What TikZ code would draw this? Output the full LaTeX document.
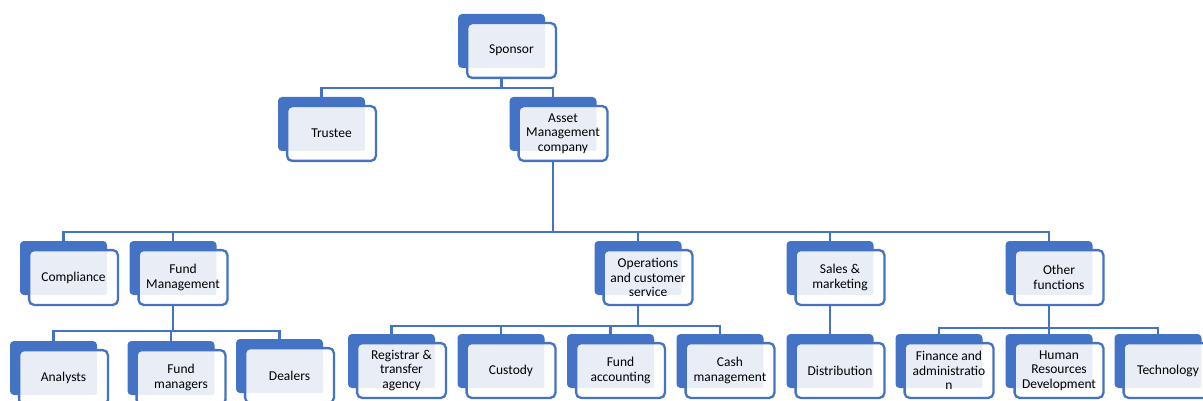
\documentclass[tikz,border=0pt]{standalone}
\usepackage{fontspec}
\setmainfont{Carlito}
\definecolor{accent}{HTML}{4472C4}
\definecolor{tint}{HTML}{E9EDF6}

\begin{document}
\begin{tikzpicture}[x=1pt,y=-1pt,font=\fontsize{13.5}{14.5}\selectfont,
  back/.style={fill=accent, rounded corners=4pt, minimum width=87pt, minimum height=54pt, inner sep=0pt},
  box/.style={draw=accent, line width=2.3pt, fill=white, rounded corners=5pt, minimum width=88.8pt, minimum height=54.8pt, inner sep=1pt, align=center,
    path picture={\fill[tint, rounded corners=2pt] (path picture bounding box.north west) rectangle ([xshift=-11pt,yshift=10pt]path picture bounding box.south east);}},
  link/.style={draw=accent, line width=2.7pt}]

  \useasboundingbox (0,0) rectangle (1203,401);

  % Top
  \node[back] (sponsorb) at (501.5,41) {};
  \node[box] (sponsor) at ([shift={(10,9.5)}]sponsorb.center) {Sponsor};
  \node[back] (trusteeb) at (321.5,124) {};
  \node[box] (trustee) at ([shift={(10,9.5)}]trusteeb.center) {Trustee};
  \node[back] (amcb) at (553,124) {};
  \node[box] (amc) at ([shift={(10,9.5)}]amcb.center) {Asset\\Management\\company};

  % Departments
  \node[back] (complianceb) at (63.5,268) {};
  \node[box] (compliance) at ([shift={(10,9.5)}]complianceb.center) {Compliance};
  \node[back] (fundmgmtb) at (173,268) {};
  \node[box] (fundmgmt) at ([shift={(10,9.5)}]fundmgmtb.center) {Fund\\Management};
  \node[back] (opsb) at (638,268) {};
  \node[box] (ops) at ([shift={(10,9.5)}]opsb.center) {Operations\\and customer\\service};
  \node[back] (salesb) at (830,268) {};
  \node[box] (sales) at ([shift={(10,9.5)}]salesb.center) {Sales \&\\marketing};
  \node[back] (otherb) at (1049,268) {};
  \node[box] (other) at ([shift={(10,9.5)}]otherb.center) {Other\\functions};

  % Fund management team
  \node[back] (analystsb) at (53.5,368) {};
  \node[box] (analysts) at ([shift={(10,9.5)}]analystsb.center) {Analysts};
  \node[back] (managersb) at (171,368) {};
  \node[box] (managers) at ([shift={(10,9.5)}]managersb.center) {Fund\\managers};
  \node[back] (dealersb) at (279.5,366) {};
  \node[box] (dealers) at ([shift={(10,9.5)}]dealersb.center) {Dealers};

  % Operations team
  \node[back] (registrarb) at (391.5,361) {};
  \node[box] (registrar) at ([shift={(10,9.5)}]registrarb.center) {Registrar \&\\transfer\\agency};
  \node[back] (custodyb) at (501,361) {};
  \node[box] (custody) at ([shift={(10,9.5)}]custodyb.center) {Custody};
  \node[back] (accountingb) at (610.5,361) {};
  \node[box] (accounting) at ([shift={(10,9.5)}]accountingb.center) {Fund\\accounting};
  \node[back] (cashb) at (720,361) {};
  \node[box] (cash) at ([shift={(10,9.5)}]cashb.center) {Cash\\management};

  % Sales team
  \node[back] (distributionb) at (830,361) {};
  \node[box] (distribution) at ([shift={(10,9.5)}]distributionb.center) {Distribution};

  % Other functions team
  \node[back] (financeb) at (939,361) {};
  \node[box] (finance) at ([shift={(10,9.5)}]financeb.center) {Finance and\\administratio\\n};
  \node[back] (hrb) at (1049,361) {};
  \node[box] (hr) at ([shift={(10,9.5)}]hrb.center) {Human\\Resources\\Development};
  \node[back] (techb) at (1158,361) {};
  \node[box] (tech) at ([shift={(10,9.5)}]techb.center) {Technology};

  % Links
  \draw[link] (sponsorb |- sponsor.south) -- ++(0,9) -| (trusteeb.north);
  \draw[link] (sponsorb |- sponsor.south) -- ++(0,9) -| (amcb.north);

  \draw[link] (amcb |- amc.south) -- ++(0,70) -| (complianceb.north);
  \draw[link] (amcb |- amc.south) -- ++(0,70) -| (fundmgmtb.north);
  \draw[link] (amcb |- amc.south) -- ++(0,70) -| (opsb.north);
  \draw[link] (amcb |- amc.south) -- ++(0,70) -| (salesb.north);
  \draw[link] (amcb |- amc.south) -- ++(0,70) -| (otherb.north);

  \draw[link] (fundmgmtb |- fundmgmt.south) -- ++(0,25) -| (analystsb.north);
  \draw[link] (fundmgmtb |- fundmgmt.south) -- ++(0,25) -| (managersb.north);
  \draw[link] (fundmgmtb |- fundmgmt.south) -- ++(0,25) -| (dealersb.north);

  \draw[link] (opsb |- ops.south) -- ++(0,20) -| (registrarb.north);
  \draw[link] (opsb |- ops.south) -- ++(0,20) -| (custodyb.north);
  \draw[link] (opsb |- ops.south) -- ++(0,20) -| (accountingb.north);
  \draw[link] (opsb |- ops.south) -- ++(0,20) -| (cashb.north);

  \draw[link] (salesb |- sales.south) -- (distributionb.north);

  \draw[link] (otherb |- other.south) -- ++(0,22) -| (financeb.north);
  \draw[link] (otherb |- other.south) -- ++(0,22) -| (hrb.north);
  \draw[link] (otherb |- other.south) -- ++(0,22) -| (techb.north);
\end{tikzpicture}
\end{document}
